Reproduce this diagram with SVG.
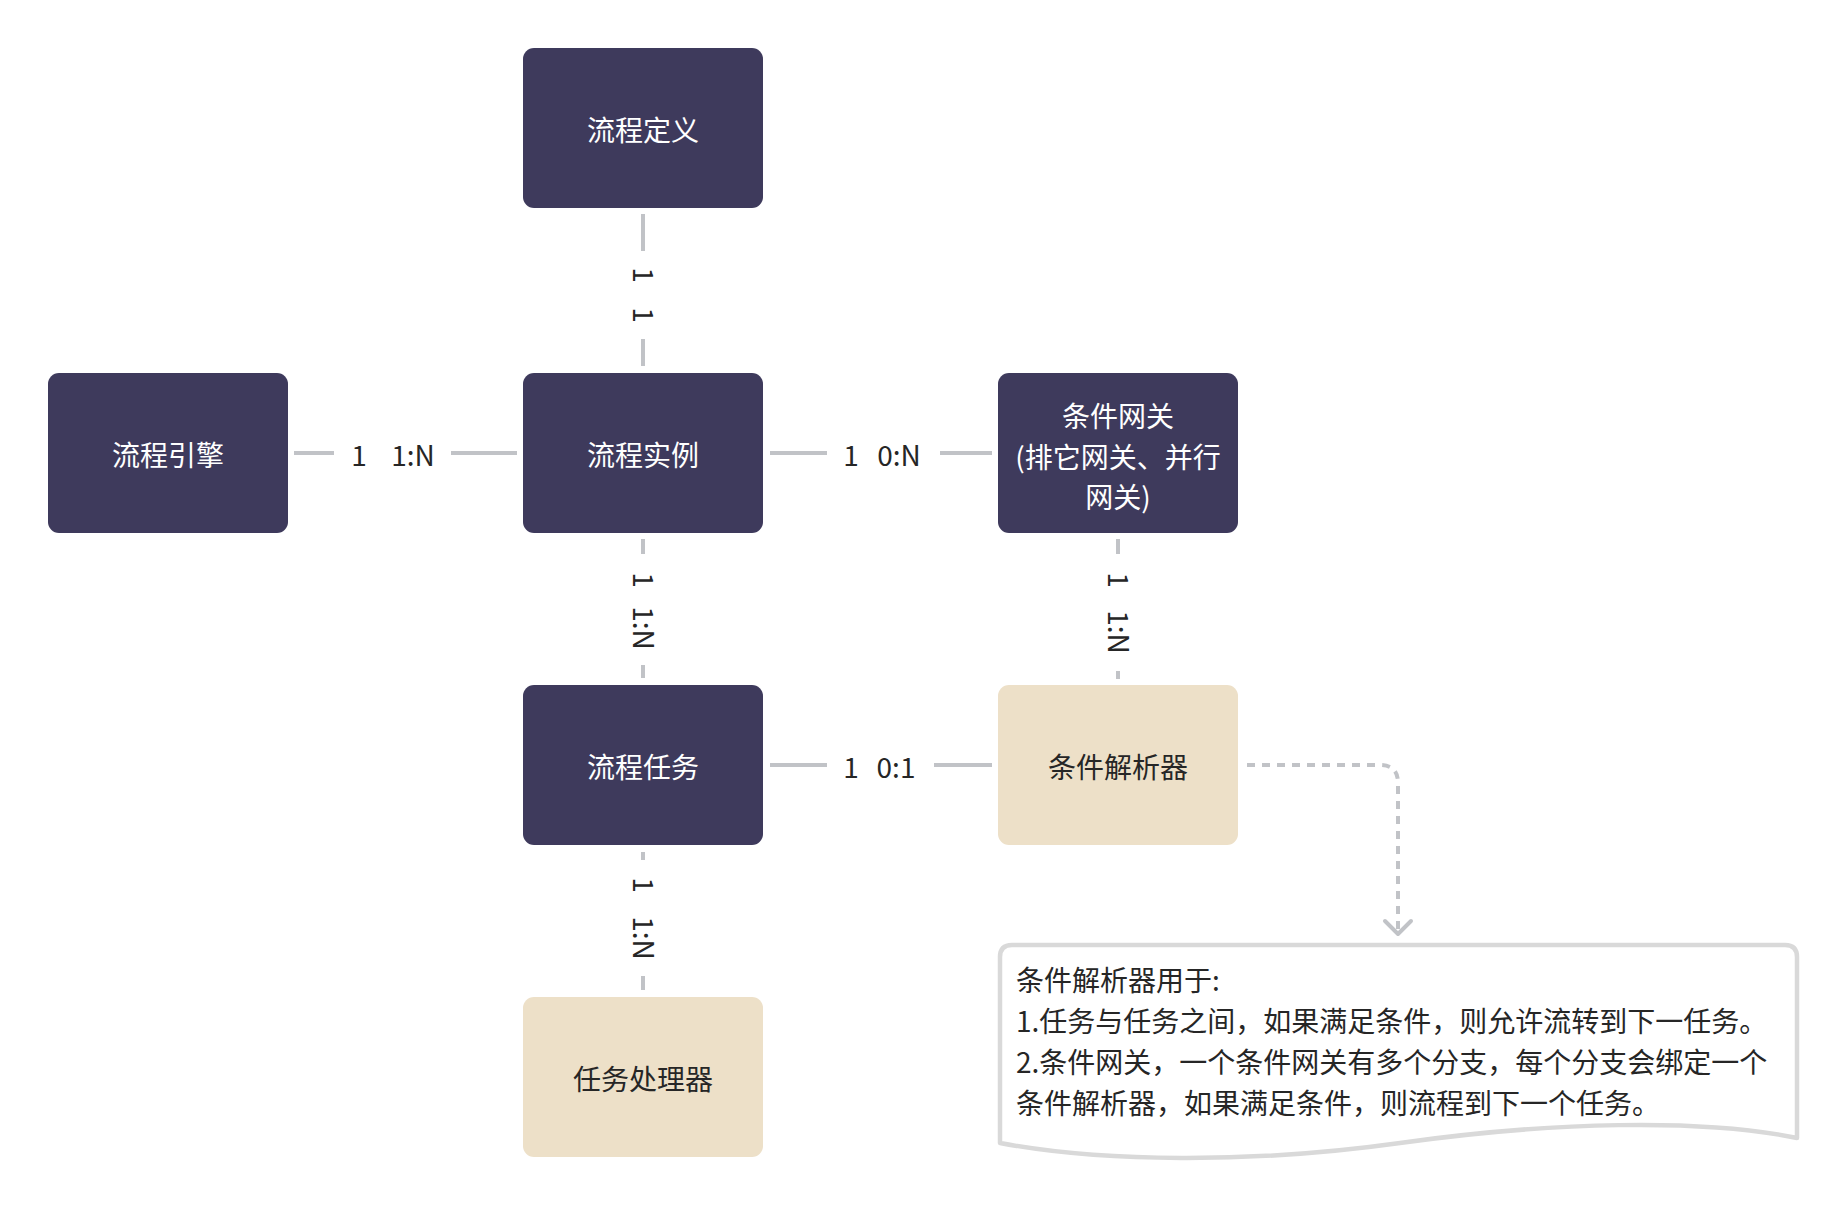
<svg xmlns="http://www.w3.org/2000/svg" width="1846" height="1206" viewBox="0 0 1846 1206">
<style>
text{font-family:"Noto Sans CJK SC","Noto Sans",sans-serif;font-size:28px}
.dark rect{fill:#3E3A5C}
.light rect{fill:#EDE0C8}
.dark text{fill:#FFFFFF;text-anchor:middle}
.light text{fill:#262626;text-anchor:middle}
.ln{stroke:#C1C3C7;stroke-width:4;fill:none}
.lbl{fill:#262626;text-anchor:middle}
.dot{stroke:#C1C3C7;stroke-width:4;fill:none;stroke-dasharray:8 7}
.note-t{fill:#262626}
</style>
<defs>
<marker id="chev" markerUnits="userSpaceOnUse" markerWidth="34" markerHeight="34" viewBox="-17 -17 34 34" refX="0" refY="0" orient="auto">
<path d="M-13,-13 L0,0 L-13,13" fill="none" stroke="#C1C3C7" stroke-width="4" stroke-linecap="round" stroke-linejoin="round"/>
</marker>
</defs>
<rect width="1846" height="1206" fill="#FFFFFF"/>

<g id="connectors">
<!-- definition - instance -->
<line class="ln" x1="643" y1="214" x2="643" y2="251"/>
<text class="lbl" x="0" y="10" transform="translate(643,275) rotate(90)">1</text>
<text class="lbl" x="0" y="10" transform="translate(643,315) rotate(90)">1</text>
<line class="ln" x1="643" y1="339" x2="643" y2="366"/>
<!-- engine - instance -->
<line class="ln" x1="294" y1="453" x2="334" y2="453"/>
<text class="lbl" x="359" y="466">1</text>
<text class="lbl" x="413" y="466">1:N</text>
<line class="ln" x1="451" y1="453" x2="517" y2="453"/>
<!-- instance - gateway -->
<line class="ln" x1="770" y1="453" x2="827" y2="453"/>
<text class="lbl" x="851" y="466">1</text>
<text class="lbl" x="899" y="466">0:N</text>
<line class="ln" x1="940" y1="453" x2="992" y2="453"/>
<!-- instance - task -->
<line class="ln" x1="643" y1="539" x2="643" y2="554"/>
<text class="lbl" x="0" y="10" transform="translate(643,580) rotate(90)">1</text>
<text class="lbl" x="0" y="10" transform="translate(643,628) rotate(90)">1:N</text>
<line class="ln" x1="643" y1="665" x2="643" y2="678"/>
<!-- gateway - parser -->
<line class="ln" x1="1118" y1="539" x2="1118" y2="554"/>
<text class="lbl" x="0" y="10" transform="translate(1118,580) rotate(90)">1</text>
<text class="lbl" x="0" y="10" transform="translate(1118,632) rotate(90)">1:N</text>
<line class="ln" x1="1118" y1="671" x2="1118" y2="679"/>
<!-- task - parser -->
<line class="ln" x1="770" y1="765" x2="827" y2="765"/>
<text class="lbl" x="851" y="778">1</text>
<text class="lbl" x="896" y="778">0:1</text>
<line class="ln" x1="934" y1="765" x2="992" y2="765"/>
<!-- task - handler -->
<line class="ln" x1="643" y1="852" x2="643" y2="860"/>
<text class="lbl" x="0" y="10" transform="translate(643,885) rotate(90)">1</text>
<text class="lbl" x="0" y="10" transform="translate(643,938) rotate(90)">1:N</text>
<line class="ln" x1="643" y1="976" x2="643" y2="990"/>
<!-- parser - note -->
<path class="dot" d="M1247,765 L1380,765 Q1398,765 1398,783 L1398,934" marker-end="url(#chev)"/>
</g>

<g id="node-definition" class="dark">
<rect x="523" y="48" width="240" height="160" rx="11"/>
<text x="643" y="141">流程定义</text>
</g>
<g id="node-engine" class="dark">
<rect x="48" y="373" width="240" height="160" rx="11"/>
<text x="168" y="466">流程引擎</text>
</g>
<g id="node-instance" class="dark">
<rect x="523" y="373" width="240" height="160" rx="11"/>
<text x="643" y="466">流程实例</text>
</g>
<g id="node-gateway" class="dark">
<rect x="998" y="373" width="240" height="160" rx="11"/>
<text x="1118" y="427">条件网关</text>
<text x="1118" y="468">(排它网关、并行</text>
<text x="1118" y="508">网关)</text>
</g>
<g id="node-task" class="dark">
<rect x="523" y="685" width="240" height="160" rx="11"/>
<text x="643" y="778">流程任务</text>
</g>
<g id="node-parser" class="light">
<rect x="998" y="685" width="240" height="160" rx="11"/>
<text x="1118" y="778">条件解析器</text>
</g>
<g id="node-handler" class="light">
<rect x="523" y="997" width="240" height="160" rx="11"/>
<text x="643" y="1090">任务处理器</text>
</g>

<g id="node-note">
<path d="M1000,957 Q1000,945 1012,945 L1785,945 Q1797,945 1797,957 L1797,1138 C1700,1118 1550,1122 1400,1143 C1250,1164 1100,1162 1000,1143 Z" fill="#FFFFFF" stroke="#D9D9D9" stroke-width="4.5" stroke-linejoin="round"/>
<text class="note-t" x="1016" y="991">条件解析器用于:</text>
<text class="note-t" x="1016" y="1032">1.任务与任务之间，如果满足条件，则允许流转到下一任务。</text>
<text class="note-t" x="1016" y="1073">2.条件网关，一个条件网关有多个分支，每个分支会绑定一个</text>
<text class="note-t" x="1016" y="1114">条件解析器，如果满足条件，则流程到下一个任务。</text>
</g>
</svg>
